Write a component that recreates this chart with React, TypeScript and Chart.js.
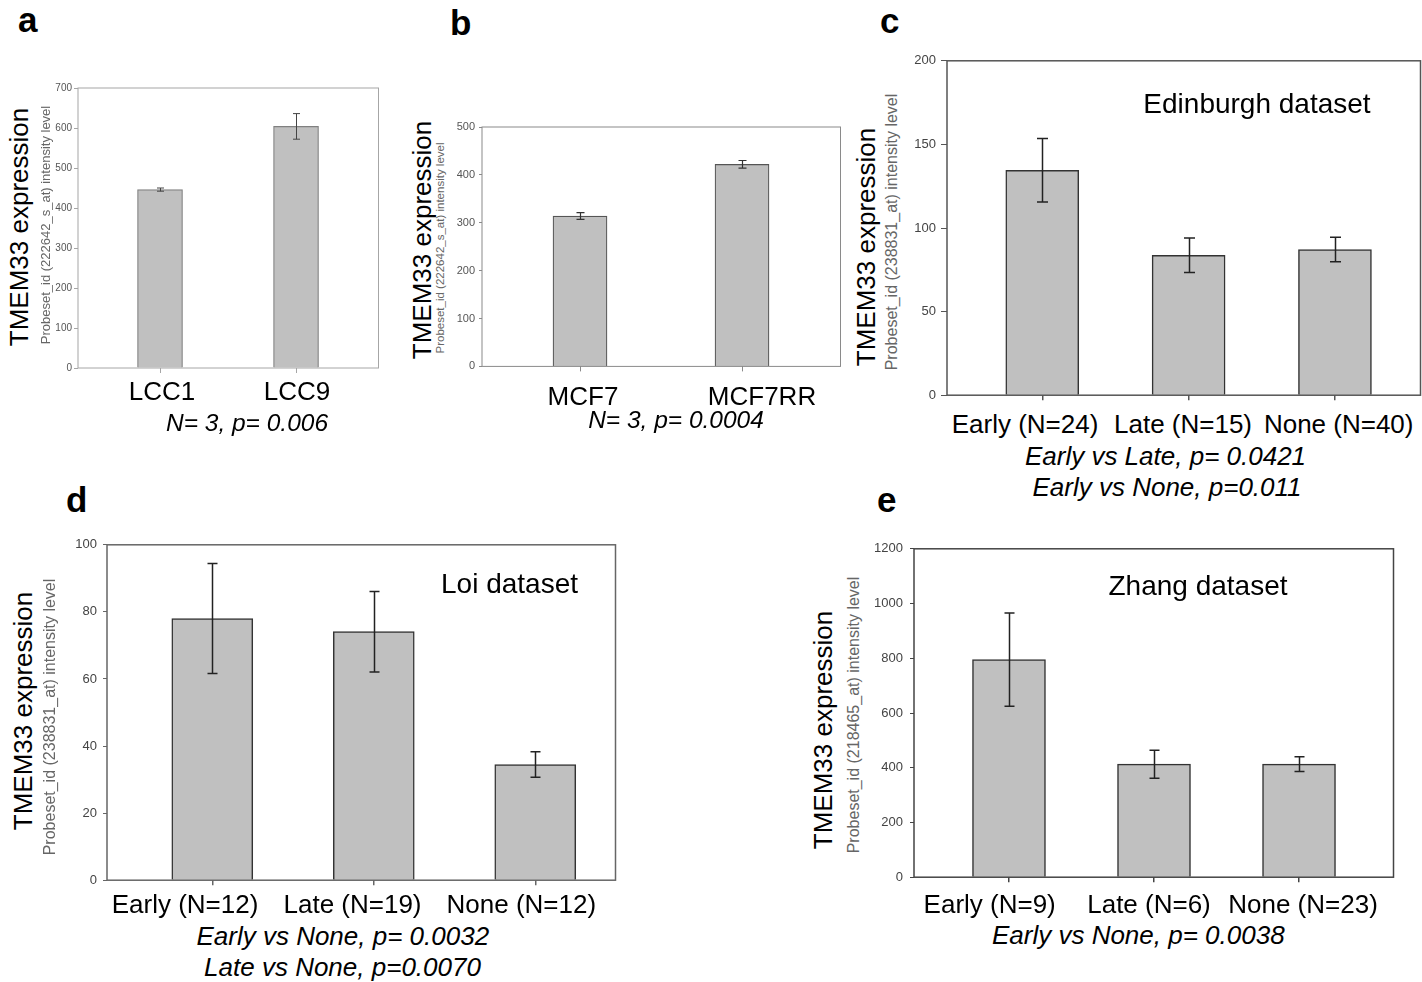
import React, { useEffect, useRef } from 'react';
import { Chart, registerables } from 'chart.js';
Chart.register(...registerables);

const FONT = '"Liberation Sans", Arial, Helvetica, sans-serif';

// ---------- data ----------
const aCategories = ['LCC1', 'LCC9'];
const aMeans = [446, 604];
const aErrors = [4, 32];
const aYTicks = [0, 100, 200, 300, 400, 500, 600, 700];

const bCategories = ['MCF7', 'MCF7RR'];
const bMeans = [314, 422];
const bErrors = [7, 8];
const bYTicks = [0, 100, 200, 300, 400, 500];

const cCategories = ['Early (N=24)', 'Late (N=15)', 'None (N=40)'];
const cMeans = [134.5, 83.7, 87.1];
const cErrors = [19, 10.3, 7.3];
const cYTicks = [0, 50, 100, 150, 200];

const dCategories = ['Early (N=12)', 'Late (N=19)', 'None (N=12)'];
const dMeans = [78, 74.1, 34.5];
const dErrors = [16.4, 12, 3.8];
const dYTicks = [0, 20, 40, 60, 80, 100];

const eCategories = ['Early (N=9)', 'Late (N=6)', 'None (N=23)'];
const eMeans = [795, 413, 413];
const eErrors = [170, 51, 27];
const eYTicks = [0, 200, 400, 600, 800, 1000, 1200];

const mainTitle = 'TMEM33 expression';
const aSubTitle = 'Probeset_id (222642_s_at) intensity level';
const bSubTitle = 'Probeset_id (222642_s_at) intensity level';
const cSubTitle = 'Probeset_id (238831_at) intensity level';
const dSubTitle = 'Probeset_id (238831_at) intensity level';
const eSubTitle = 'Probeset_id (218465_at) intensity level';

const aNotes = ['N= 3, p= 0.006'];
const bNotes = ['N= 3, p= 0.0004'];
const cNotes = ['Early vs Late, p= 0.0421', 'Early vs None, p=0.011'];
const dNotes = ['Early vs None, p= 0.0032', 'Late vs None, p=0.0070'];
const eNotes = ['Early vs None, p= 0.0038'];

const cDataset = 'Edinburgh dataset';
const dDataset = 'Loi dataset';
const eDataset = 'Zhang dataset';

// ---------- layout / style ----------
type Panel = {
  categories: string[];
  means: number[];
  errors: number[];
  yTicks: number[];
  box: { l: number; t: number; r: number; b: number };
  xMin: number;
  xMax: number;
  yAxisW: number;
  barThickness: number;
  tickFont: number;
  tickColor: string;
  tickLen: number;
  tickPad: number;
  lineColor: string;
  lineW: number;
  barBorder: string;
  barBorderW: number;
  errColor: string;
  errW: number;
  capW: number;
};

const panelA: Panel = {
  categories: aCategories, means: aMeans, errors: aErrors, yTicks: aYTicks,
  box: { l: 78, t: 88, r: 379, b: 368 }, xMin: -0.603, xMax: 1.61, yAxisW: 30,
  barThickness: 45, tickFont: 10, tickColor: '#555', tickLen: 4, tickPad: 2,
  lineColor: '#a6a6a6', lineW: 1, barBorder: '#808080', barBorderW: 1.2,
  errColor: '#444', errW: 1, capW: 7,
};
const panelB: Panel = {
  categories: bCategories, means: bMeans, errors: bErrors, yTicks: bYTicks,
  box: { l: 482, t: 127, r: 841, b: 367 }, xMin: -0.605, xMax: 1.611, yAxisW: 34,
  barThickness: 54, tickFont: 11, tickColor: '#555', tickLen: 3, tickPad: 4,
  lineColor: '#8a8a8a', lineW: 1, barBorder: '#555', barBorderW: 1.2,
  errColor: '#333', errW: 1.2, capW: 8,
};
const panelC: Panel = {
  categories: cCategories, means: cMeans, errors: cErrors, yTicks: cYTicks,
  box: { l: 947, t: 60, r: 1421, b: 398 }, xMin: -0.651, xMax: 2.588, yAxisW: 40,
  barThickness: 73, tickFont: 13, tickColor: '#444', tickLen: 6, tickPad: 5,
  lineColor: '#555', lineW: 1.5, barBorder: '#333', barBorderW: 1.5,
  errColor: '#222', errW: 1.5, capW: 11,
};
const panelD: Panel = {
  categories: dCategories, means: dMeans, errors: dErrors, yTicks: dYTicks,
  box: { l: 107, t: 543, r: 616, b: 884 }, xMin: -0.652, xMax: 2.5, yAxisW: 40,
  barThickness: 81, tickFont: 13, tickColor: '#444', tickLen: 4, tickPad: 6,
  lineColor: '#666', lineW: 1.5, barBorder: '#333', barBorderW: 1.5,
  errColor: '#222', errW: 1.5, capW: 10,
};
const panelE: Panel = {
  categories: eCategories, means: eMeans, errors: eErrors, yTicks: eYTicks,
  box: { l: 914, t: 546, r: 1394, b: 882 }, xMin: -0.655, xMax: 2.655, yAxisW: 46,
  barThickness: 73, tickFont: 13, tickColor: '#444', tickLen: 4, tickPad: 7,
  lineColor: '#444', lineW: 1.5, barBorder: '#333', barBorderW: 1.5,
  errColor: '#222', errW: 1.5, capW: 10,
};

const PAD_TOP = 12;
const X_AXIS_H = 8;
const PAD_BOTTOM = 2;
const PAD_RIGHT = 1;

function BarPanel({ p }: { p: Panel }) {
  const ref = useRef<HTMLCanvasElement>(null);
  const width = p.yAxisW + (p.box.r - p.box.l) + PAD_RIGHT;
  const height = PAD_TOP + (p.box.b - p.box.t) + X_AXIS_H + PAD_BOTTOM;

  useEffect(() => {
    const canvas = ref.current;
    if (!canvas) return;
    const errorBars = {
      id: 'errorBars',
      afterDatasetsDraw(chart: any) {
        const { ctx } = chart;
        const x = chart.scales.x;
        const y = chart.scales.y;
        ctx.save();
        ctx.strokeStyle = p.errColor;
        ctx.lineWidth = p.errW;
        p.means.forEach((m, i) => {
          const px = Math.round(x.getPixelForValue(i)) + 0.5;
          const yt = y.getPixelForValue(m + p.errors[i]);
          const yb = y.getPixelForValue(m - p.errors[i]);
          ctx.beginPath();
          ctx.moveTo(px, yt);
          ctx.lineTo(px, yb);
          ctx.moveTo(px - p.capW / 2, yt);
          ctx.lineTo(px + p.capW / 2, yt);
          ctx.moveTo(px - p.capW / 2, yb);
          ctx.lineTo(px + p.capW / 2, yb);
          ctx.stroke();
        });
        ctx.restore();
      },
    };
    const frame = {
      id: 'frame',
      afterDraw(chart: any) {
        const { ctx, chartArea: a } = chart;
        ctx.save();
        ctx.strokeStyle = p.lineColor;
        ctx.lineWidth = p.lineW;
        ctx.strokeRect(a.left, a.top, a.right - a.left - 0.5, a.bottom - a.top);
        ctx.restore();
      },
    };
    const chart = new Chart(canvas, {
      type: 'bar',
      data: {
        datasets: [
          {
            data: p.means.map((m, i) => ({ x: i, y: m })),
            backgroundColor: '#c0c0c0',
            borderColor: p.barBorder,
            borderWidth: p.barBorderW,
            barThickness: p.barThickness,
          } as any,
        ],
      },
      options: {
        animation: false,
        responsive: false,
        events: [],
        layout: { padding: { left: 0, top: PAD_TOP, right: PAD_RIGHT, bottom: PAD_BOTTOM } },
        plugins: { legend: { display: false }, tooltip: { enabled: false }, title: { display: false } },
        scales: {
          x: {
            type: 'linear',
            min: p.xMin,
            max: p.xMax,
            offset: false,
            afterBuildTicks: (s: any) => {
              s.ticks = p.categories.map((_, i) => ({ value: i }));
            },
            afterFit: (s: any) => {
              s.height = X_AXIS_H;
            },
            ticks: { display: false },
            grid: {
              display: true,
              offset: false,
              drawOnChartArea: false,
              drawTicks: true,
              tickLength: 5,
              color: p.lineColor,
              lineWidth: p.lineW,
            },
            border: { display: false },
          } as any,
          y: {
            type: 'linear',
            min: p.yTicks[0],
            max: p.yTicks[p.yTicks.length - 1],
            afterBuildTicks: (s: any) => {
              s.ticks = p.yTicks.map((v) => ({ value: v }));
            },
            afterFit: (s: any) => {
              s.width = p.yAxisW;
            },
            ticks: {
              color: p.tickColor,
              font: { family: FONT, size: p.tickFont },
              padding: p.tickPad,
              callback: (v: any) => String(v),
            },
            grid: {
              display: true,
              offset: false,
              drawOnChartArea: false,
              drawTicks: true,
              tickLength: p.tickLen,
              color: p.lineColor,
              lineWidth: 1,
            },
            border: { display: false },
          } as any,
        },
      },
      plugins: [errorBars, frame],
    });
    return () => chart.destroy();
  }, [p]);

  return (
    <canvas
      ref={ref}
      width={width}
      height={height}
      style={{
        position: 'absolute',
        left: p.box.l - p.yAxisW,
        top: p.box.t - PAD_TOP,
        width,
        height,
        display: 'block',
      }}
    />
  );
}

type TxtProps = {
  x: number;
  y: number; // baseline
  size: number;
  text: string;
  bold?: boolean;
  italic?: boolean;
  color?: string;
  align?: 'left' | 'center';
};

function Txt({ x, y, size, text, bold, italic, color, align }: TxtProps) {
  return (
    <div
      style={{
        position: 'absolute',
        left: x,
        top: y - 0.8465 * size,
        fontSize: size,
        lineHeight: `${size}px`,
        fontFamily: FONT,
        fontWeight: bold ? 700 : 400,
        fontStyle: italic ? 'italic' : 'normal',
        color: color || '#000',
        whiteSpace: 'nowrap',
        transform: align === 'center' ? 'translateX(-50%)' : undefined,
      }}
    >
      {text}
    </div>
  );
}

function RotTxt({ cx, cy, size, text, color }: { cx: number; cy: number; size: number; text: string; color?: string }) {
  return (
    <div
      style={{
        position: 'absolute',
        left: cx,
        top: cy,
        fontSize: size,
        lineHeight: `${size}px`,
        fontFamily: FONT,
        color: color || '#000',
        whiteSpace: 'nowrap',
        transform: 'translate(-50%, -50%) rotate(-90deg)',
      }}
    >
      {text}
    </div>
  );
}

// label centers / baselines (layout)
const aLabelX = [162, 297];
const bLabelX = [583, 762];
const cLabelX = [1025, 1183, 1338.7];
const dLabelX = [185, 352.5, 521.3];
const eLabelX = [989.7, 1149, 1303];

export default function App() {
  const SUB = '#666';
  return (
    <div
      style={{
        position: 'absolute',
        left: 0,
        top: 0,
        width: 1422,
        height: 982,
        overflow: 'hidden',
        background: '#fff',
      }}
    >
      <BarPanel p={panelA} />
      <BarPanel p={panelB} />
      <BarPanel p={panelC} />
      <BarPanel p={panelD} />
      <BarPanel p={panelE} />

      {/* panel letters */}
      <Txt x={18} y={32} size={35} bold text="a" />
      <Txt x={450} y={35} size={35} bold text="b" />
      <Txt x={880} y={33} size={35} bold text="c" />
      <Txt x={66} y={512} size={35} bold text="d" />
      <Txt x={877} y={512} size={35} bold text="e" />

      {/* y titles */}
      <RotTxt cx={19} cy={227} size={26} text={mainTitle} />
      <RotTxt cx={44.8} cy={225} size={13} text={aSubTitle} color={SUB} />
      <RotTxt cx={421.5} cy={240} size={26} text={mainTitle} />
      <RotTxt cx={441.4} cy={247.5} size={11.5} text={bSubTitle} color={SUB} />
      <RotTxt cx={865.5} cy={246.5} size={26} text={mainTitle} />
      <RotTxt cx={891.9} cy={231.7} size={16} text={cSubTitle} color={SUB} />
      <RotTxt cx={22.5} cy={711} size={26} text={mainTitle} />
      <RotTxt cx={50.2} cy={716.7} size={16} text={dSubTitle} color={SUB} />
      <RotTxt cx={822.5} cy={730} size={26} text={mainTitle} />
      <RotTxt cx={853.5} cy={715} size={16} text={eSubTitle} color={SUB} />

      {/* category labels */}
      {aCategories.map((c, i) => (
        <Txt key={'a' + i} x={aLabelX[i]} y={400} size={26} align="center" text={c} />
      ))}
      {bCategories.map((c, i) => (
        <Txt key={'b' + i} x={bLabelX[i]} y={405} size={26} align="center" text={c} />
      ))}
      {cCategories.map((c, i) => (
        <Txt key={'c' + i} x={cLabelX[i]} y={433.3} size={26} align="center" text={c} />
      ))}
      {dCategories.map((c, i) => (
        <Txt key={'d' + i} x={dLabelX[i]} y={913} size={26} align="center" text={c} />
      ))}
      {eCategories.map((c, i) => (
        <Txt key={'e' + i} x={eLabelX[i]} y={913.3} size={26} align="center" text={c} />
      ))}

      {/* dataset names */}
      <Txt x={1257} y={113.3} size={28} align="center" text={cDataset} />
      <Txt x={509.5} y={594} size={28} align="center" text={dDataset} />
      <Txt x={1198} y={596} size={28} align="center" text={eDataset} />

      {/* statistics notes */}
      <Txt x={247} y={431.7} size={24.5} italic align="center" text={aNotes[0]} />
      <Txt x={676} y={428.3} size={24.5} italic align="center" text={bNotes[0]} />
      <Txt x={1165.5} y={465} size={26} italic align="center" text={cNotes[0]} />
      <Txt x={1167} y={496} size={26} italic align="center" text={cNotes[1]} />
      <Txt x={342.8} y={945} size={26} italic align="center" text={dNotes[0]} />
      <Txt x={342.5} y={976} size={26} italic align="center" text={dNotes[1]} />
      <Txt x={1138.3} y={944.3} size={26} italic align="center" text={eNotes[0]} />
    </div>
  );
}
